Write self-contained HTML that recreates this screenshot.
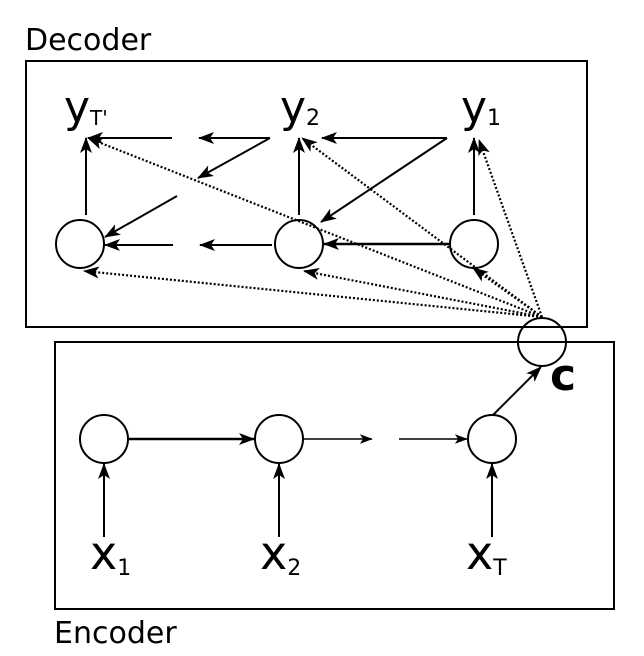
<!DOCTYPE html>
<html><head><meta charset="utf-8"><style>
html,body{margin:0;padding:0;background:#fff;}
svg{display:block;}
text{font-family:"DejaVu Sans","Liberation Sans",sans-serif;fill:#000;}
</style></head><body>
<svg width="644" height="656" viewBox="0 0 644 656" xmlns="http://www.w3.org/2000/svg">
<defs>
<marker id="a" viewBox="0 0 16 12" refX="15" refY="6" markerWidth="16" markerHeight="12" markerUnits="userSpaceOnUse" orient="auto">
<path d="M0,0 L16,6 L0,12 L4,6 Z" fill="#000"/>
</marker>
<marker id="s" viewBox="0 0 16 12" refX="15" refY="6" markerWidth="13" markerHeight="10" markerUnits="userSpaceOnUse" orient="auto">
<path d="M0,0 L16,6 L0,12 L4,6 Z" fill="#000"/>
</marker>
</defs>
<g fill="none" stroke="#000" stroke-width="2">
<rect x="26" y="61" width="561" height="266"/>
<rect x="55" y="342" width="559" height="267"/>
<!-- decoder circles -->
<circle cx="80" cy="244" r="24"/>
<circle cx="299" cy="244" r="24"/>
<circle cx="474" cy="244" r="24"/>
<!-- C circle -->
<circle cx="542" cy="342" r="24"/>
<!-- encoder circles -->
<circle cx="104" cy="439" r="24"/>
<circle cx="279" cy="439" r="24"/>
<circle cx="492" cy="439" r="24"/>
</g>
<g fill="none" stroke="#000" stroke-width="2" marker-end="url(#a)">
<!-- decoder verticals -->
<line x1="86" y1="215" x2="86" y2="138"/>
<line x1="299" y1="215" x2="299" y2="138"/>
<line x1="474" y1="215" x2="474" y2="138"/>
<!-- top row -->
<line x1="172" y1="138" x2="88" y2="138"/>
<line x1="270" y1="138" x2="199" y2="138"/>
<line x1="447" y1="138" x2="322" y2="138"/>
<!-- diagonals -->
<line x1="447" y1="138" x2="321" y2="222"/>
<line x1="270" y1="138" x2="198" y2="178"/>
<line x1="177" y1="196" x2="105" y2="237"/>
<!-- bottom row -->
<line x1="173" y1="245" x2="105" y2="245"/>
<line x1="272" y1="245" x2="200" y2="245"/>
<line x1="450" y1="244" x2="324" y2="244" stroke-width="2.5"/>
<!-- encoder -->
<line x1="128" y1="439" x2="254" y2="439" stroke-width="2.5"/>
<line x1="104" y1="537" x2="104" y2="464"/>
<line x1="279" y1="537" x2="279" y2="464"/>
<line x1="492" y1="537" x2="492" y2="464"/>
<line x1="493" y1="415" x2="541" y2="367"/>
</g>
<g fill="none" stroke="#000" stroke-width="1.5" marker-end="url(#s)">
<line x1="303" y1="439" x2="372" y2="439"/>
<line x1="399" y1="439" x2="467" y2="439"/>
</g>
<g fill="none" stroke="#000" stroke-width="2.2" stroke-dasharray="2,2" marker-end="url(#a)">
<line x1="542" y1="317" x2="88" y2="138"/>
<line x1="542" y1="317" x2="302" y2="138"/>
<line x1="542" y1="317" x2="479" y2="140"/>
<line x1="542" y1="317" x2="84" y2="271"/>
<line x1="542" y1="317" x2="304" y2="271"/>
<line x1="542" y1="317" x2="473" y2="268"/>
</g>
<text x="25" y="50" font-size="30">Decoder</text>
<text x="54" y="643" font-size="30">Encoder</text>
<text x="64" y="122" font-size="44">y<tspan font-size="20" dy="3">T'</tspan></text>
<text x="280" y="122" font-size="44">y<tspan font-size="22" dy="3">2</tspan></text>
<text x="461" y="122" font-size="44">y<tspan font-size="22" dy="3">1</tspan></text>
<text x="90" y="569" font-size="46">x<tspan font-size="22" dy="6">1</tspan></text>
<text x="260" y="569" font-size="46">x<tspan font-size="22" dy="6">2</tspan></text>
<text x="466" y="569" font-size="46">x<tspan font-size="22" dy="6">T</tspan></text>
<text x="550" y="390" font-size="44" font-weight="bold">c</text>
</svg>
</body></html>
